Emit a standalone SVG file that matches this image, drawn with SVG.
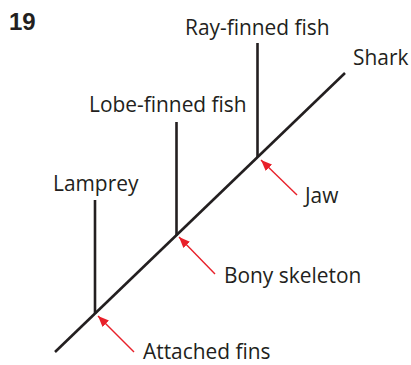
<svg xmlns="http://www.w3.org/2000/svg" width="411" height="365" viewBox="0 0 411 365">
<defs>
<style>
.t{font-family:"Open Sans","Liberation Sans",sans-serif;font-size:20.9px;fill:#231f20}
.br{stroke:#231f20;stroke-width:2.6;fill:none}
.ar{stroke:#e8202a;stroke-width:1.4;fill:none}
</style>
<marker id="ah" markerWidth="11" markerHeight="9" refX="11" refY="4.5" orient="auto" markerUnits="userSpaceOnUse">
<path d="M0,0 L11,4.5 L0,9 Z" fill="#e8202a"/>
</marker>
</defs>
<rect width="411" height="365" fill="#fff"/>
<text x="9" y="30" style="font-family:'Liberation Sans',Arial,sans-serif;font-size:24px;font-weight:bold;fill:#231f20">19</text>
<g id="connectors">
<line class="br" x1="55" y1="352" x2="345" y2="73"/>
<line class="br" x1="95" y1="200" x2="95" y2="314"/>
<line class="br" x1="176.5" y1="122" x2="176.5" y2="235.5"/>
<line class="br" x1="257.5" y1="43" x2="257.5" y2="157"/>
<line class="ar" x1="297" y1="195" x2="261" y2="160" marker-end="url(#ah)"/>
<line class="ar" x1="215" y1="274" x2="179" y2="237" marker-end="url(#ah)"/>
<line class="ar" x1="134" y1="352" x2="98" y2="316" marker-end="url(#ah)"/>
</g>
<g id="shark"><text class="t" x="353" y="65">Shark</text></g>
<g id="ray-finned"><text class="t" x="185" y="35">Ray-finned fish</text></g>
<g id="lobe-finned"><text class="t" x="89" y="112">Lobe-finned fish</text></g>
<g id="lamprey"><text class="t" x="53" y="191">Lamprey</text></g>
<g id="jaw"><text class="t" x="305" y="203">Jaw</text></g>
<g id="bony"><text class="t" x="224" y="283">Bony skeleton</text></g>
<g id="fins"><text class="t" x="143" y="359">Attached fins</text></g>
</svg>
